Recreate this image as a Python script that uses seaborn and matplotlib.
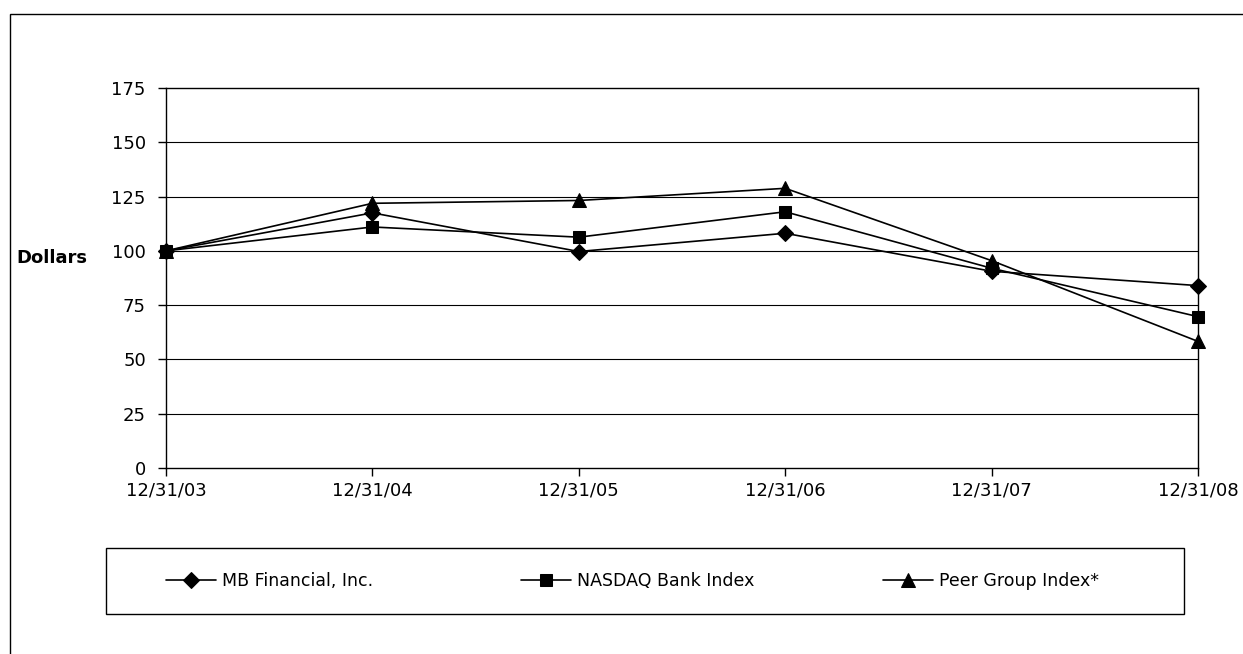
#Importing Libraries Needed
import pandas as pd
import matplotlib
matplotlib.use("Agg")
import matplotlib.pyplot as plt
import seaborn as sns
from matplotlib.patches import Rectangle

#Data
dates = ['12/31/03', '12/31/04', '12/31/05', '12/31/06', '12/31/07', '12/31/08']
mb_financial = [100, 117.5, 99.7, 108.1, 90.6, 84.0]
nasdaq_bank = [100, 111.0, 106.3, 118.0, 92.0, 69.7]
peer_group = [100, 121.9, 123.2, 128.8, 95.5, 58.3]
series_names = ['MB Financial, Inc.', 'NASDAQ Bank Index', 'Peer Group Index*']
y_ticks = [0, 25, 50, 75, 100, 125, 150, 175]

#Long table for seaborn
data = pd.DataFrame({
    'pos': list(range(len(dates))) * 3,
    'value': mb_financial + nasdaq_bank + peer_group,
    'series': [n for n in series_names for _ in dates],
})

sns.set_style("white")
plt.rcParams['font.family'] = ['DejaVu Sans']
plt.rcParams['text.color'] = 'black'
FS = 13
msizes = {'D': 8, 's': 8.5, '^': 10}

W, H = 1243, 654
fig = plt.figure(figsize=(W / 100, H / 100), dpi=100)
ax = fig.add_axes([166 / W, 1 - 468 / H, (1198 - 166) / W, (468 - 88) / H])

sns.lineplot(data=data, x='pos', y='value', hue='series', style='series',
             palette=['black'] * 3, markers={'MB Financial, Inc.': 'D',
                                             'NASDAQ Bank Index': 's',
                                             'Peer Group Index*': '^'},
             dashes=False, markersize=9, linewidth=1.2, ax=ax,
             markeredgecolor='black', legend=True)
for line in ax.lines:
    line.set_clip_on(False)
    line.set_zorder(5)
    if line.get_marker() in msizes:
        line.set_markersize(msizes[line.get_marker()])

# grid lines at every 25
for t in y_ticks[1:-1]:
    ax.axhline(t, color='black', linewidth=0.8, zorder=0)

ax.set_xlim(0, len(dates) - 1)
ax.set_ylim(0, 175)
ax.set_yticks(y_ticks)
ax.set_xticks(range(len(dates)))
ax.set_xticklabels(dates)
ax.set_xlabel('')
ax.set_ylabel('')
for s in ax.spines.values():
    s.set_visible(True)
    s.set_color('black')
    s.set_linewidth(1.0)
ax.tick_params(axis='y', direction='out', length=6, width=1, pad=8.5,
               labelsize=FS, left=True, colors='black')
ax.tick_params(axis='x', direction='out', length=6, width=1, pad=3.5,
               labelsize=FS, bottom=True, colors='black')

fig.text(16 / W, 1 - 258 / H, 'Dollars', fontsize=FS, fontweight='bold',
         ha='left', va='center', color='black')

# legend: box plus three entries
handles, labels = ax.get_legend_handles_labels()
ax.get_legend().remove()
fig.patches.append(Rectangle((106 / W, 1 - 614 / H), (1184 - 106) / W, (614 - 548) / H,
                             transform=fig.transFigure, fill=False,
                             edgecolor='black', linewidth=1.0))
entry_x = [166, 521, 883]
for h, l, x in zip(handles, labels, entry_x):
    h.set_markersize(msizes.get(h.get_marker(), 9))
    fig.legend([h], [l], loc='center left', bbox_to_anchor=(x / W, 1 - 581 / H),
               frameon=False, fontsize=12.5, handlelength=2.9, handletextpad=0.3,
               borderpad=0, borderaxespad=0, labelcolor='black')

# outer border
fig.patches.append(Rectangle((10 / W, -0.1), 2, (654 - 14) / H + 0.1,
                             transform=fig.transFigure, fill=False,
                             edgecolor='black', linewidth=1.0))

fig.savefig('out.png', dpi=100)
